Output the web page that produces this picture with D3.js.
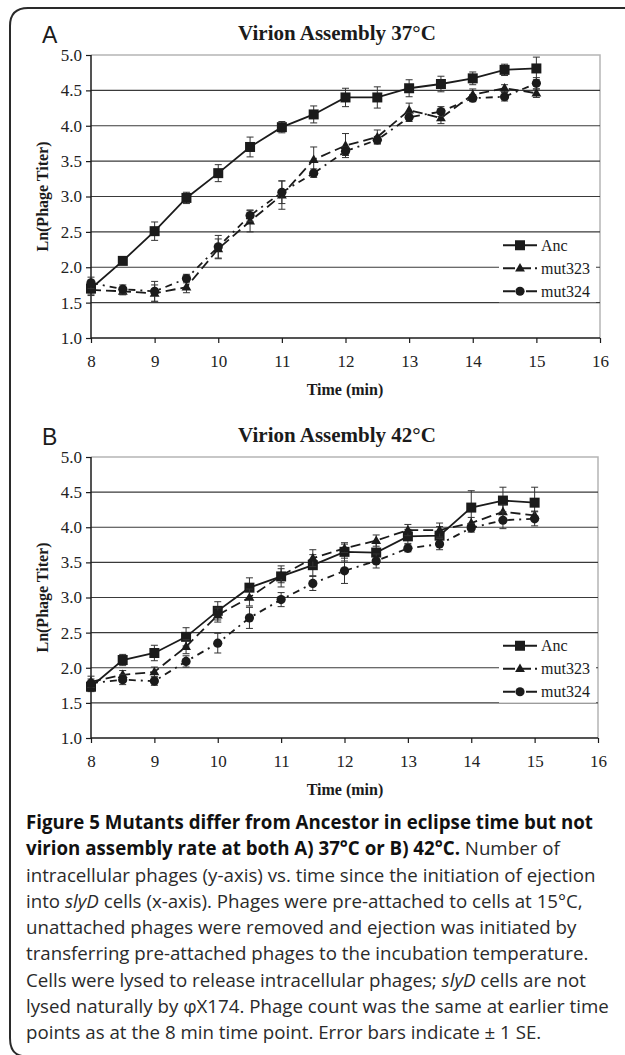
<!DOCTYPE html>
<html>
<head>
<meta charset="utf-8">
<script src="https://cdn.jsdelivr.net/npm/d3@7"></script>
<style>
  html, body { margin: 0; padding: 0; background: #fff; }
  svg { display: block; }
</style>
</head>
<body>
<div id="chart"></div>
<script>
// time points (min)
const times = [8, 8.5, 9, 9.5, 10, 10.5, 11, 11.5, 12, 12.5, 13, 13.5, 14, 14.5, 15];
const seriesNames = ["Anc", "mut323", "mut324"];
const yTicks = [1.0, 1.5, 2.0, 2.5, 3.0, 3.5, 4.0, 4.5, 5.0];
const xTicks = [8, 9, 10, 11, 12, 13, 14, 15, 16];

// 37C
const anc37      = [1.70, 2.09, 2.51, 2.98, 3.33, 3.70, 3.98, 4.16, 4.40, 4.40, 4.53, 4.59, 4.67, 4.79, 4.81];
const anc37Err   = [0.08, 0.05, 0.13, 0.08, 0.12, 0.14, 0.08, 0.12, 0.13, 0.15, 0.12, 0.11, 0.09, 0.08, 0.16];
const mut323_37    = [1.68, 1.66, 1.63, 1.72, 2.26, 2.65, 3.02, 3.52, 3.72, 3.84, 4.22, 4.11, 4.44, 4.53, 4.46];
const mut323_37Err = [0.08, 0.05, 0.12, 0.08, 0.14, 0.15, 0.20, 0.18, 0.17, 0.10, 0.10, 0.08, 0.08, 0.05, 0.06];
const mut324_37    = [1.78, 1.69, 1.66, 1.84, 2.29, 2.73, 3.06, 3.33, 3.64, 3.80, 4.12, 4.20, 4.39, 4.41, 4.60];
const mut324_37Err = [0.08, 0.06, 0.14, 0.06, 0.16, 0.08, 0.16, 0.06, 0.06, 0.05, 0.06, 0.07, 0.05, 0.06, 0.08];

// 42C
const anc42      = [1.73, 2.11, 2.21, 2.44, 2.81, 3.14, 3.30, 3.46, 3.65, 3.64, 3.87, 3.88, 4.28, 4.38, 4.35];
const anc42Err   = [0.07, 0.08, 0.11, 0.13, 0.13, 0.14, 0.15, 0.15, 0.13, 0.15, 0.10, 0.13, 0.24, 0.19, 0.22];
const mut323_42    = [1.80, 1.90, 1.94, 2.30, 2.75, 3.00, 3.31, 3.56, 3.70, 3.81, 3.96, 3.96, 4.06, 4.22, 4.17];
const mut323_42Err = [0.08, 0.06, 0.07, 0.10, 0.10, 0.12, 0.10, 0.12, 0.06, 0.08, 0.08, 0.10, 0.08, 0.10, 0.06];
const mut324_42    = [1.78, 1.83, 1.81, 2.09, 2.35, 2.71, 2.97, 3.20, 3.38, 3.52, 3.70, 3.76, 3.99, 4.10, 4.12];
const mut324_42Err = [0.06, 0.07, 0.06, 0.08, 0.14, 0.15, 0.10, 0.10, 0.18, 0.10, 0.05, 0.08, 0.06, 0.12, 0.10];

const W = 625, H = 1055;
const INK = "#1b1b1b";

const svg = d3.select("#chart").append("svg")
  .attr("width", W).attr("height", H);

// outer frame
svg.append("path")
  .attr("d", "M625,8 H28 Q10,8 10,26 V1038 Q10,1054 22,1056")
  .attr("fill", "none").attr("stroke", "#2a2a2a").attr("stroke-width", 2);

const styles = {
  Anc:    { dash: null,        marker: "square" },
  mut323: { dash: "10,5",      marker: "triangle" },
  mut324: { dash: "7,5,2,5",   marker: "circle" }
};

function drawMarker(g, type, x, y) {
  if (type === "square") {
    g.append("rect").attr("x", x - 5).attr("y", y - 5).attr("width", 10).attr("height", 10).attr("fill", INK);
  } else if (type === "triangle") {
    g.append("path").attr("d", d3.symbol().type(d3.symbolTriangle).size(42)()).attr("transform", `translate(${x},${y + 0.5})`).attr("fill", INK);
  } else {
    g.append("circle").attr("cx", x).attr("cy", y).attr("r", 4.6).attr("fill", INK);
  }
}

function panel(cfg) {
  const x = d3.scaleLinear().domain([8, 16]).range([cfg.left, cfg.right]);
  const y = d3.scaleLinear().domain([1, 5]).range([cfg.bottom, cfg.top]);
  const g = svg.append("g");

  // panel letter and title
  g.append("text").attr("x", 42).attr("y", cfg.top - 12)
    .attr("font-family", "Liberation Sans, Arial, sans-serif").attr("font-size", 23).attr("fill", INK)
    .text(cfg.letter);
  g.append("text").attr("x", 337).attr("y", cfg.top - 15).attr("text-anchor", "middle")
    .attr("font-family", "Liberation Serif, Times New Roman, serif").attr("font-weight", "bold")
    .attr("font-size", 21).attr("fill", INK).text(cfg.title);

  // plot border (top/right light)
  g.append("path")
    .attr("d", `M${cfg.left},${cfg.top} H${cfg.right} V${cfg.bottom}`)
    .attr("fill", "none").attr("stroke", "#b5b5b5").attr("stroke-width", 1.5);

  // gridlines
  g.append("g").selectAll("line").data(yTicks.filter(v => v > 1 && v < 5)).join("line")
    .attr("x1", cfg.left).attr("x2", cfg.right)
    .attr("y1", d => y(d)).attr("y2", d => y(d))
    .attr("stroke", "#3a3a3a").attr("stroke-width", 1.2);

  // axes
  const yAxis = g.append("g").attr("transform", `translate(${cfg.left},0)`)
    .call(d3.axisLeft(y).tickValues(yTicks).tickFormat(d3.format(".1f")).tickSize(5).tickPadding(4));
  const xAxis = g.append("g").attr("transform", `translate(0,${cfg.bottom})`)
    .call(d3.axisBottom(x).tickValues(xTicks).tickFormat(d3.format("d")).tickSize(5).tickPadding(12));
  [yAxis, xAxis].forEach(a => {
    a.select(".domain").attr("stroke", INK).attr("stroke-width", 1.5);
    a.selectAll(".tick line").attr("stroke", INK).attr("stroke-width", 1.2);
    a.selectAll("text").attr("font-family", "Liberation Serif, Times New Roman, serif")
      .attr("font-size", 17).attr("fill", "#222");
  });
  yAxis.select(".domain").attr("d", `M0,${cfg.top}V${cfg.bottom}`);
  xAxis.select(".domain").attr("d", `M${cfg.left},0H${cfg.right}`);

  // axis titles
  g.append("text").attr("transform", `translate(48,${(cfg.top + cfg.bottom) / 2}) rotate(-90)`)
    .attr("text-anchor", "middle").attr("font-family", "Liberation Serif, Times New Roman, serif")
    .attr("font-weight", "bold").attr("font-size", 16).attr("fill", INK).text("Ln(Phage Titer)");
  g.append("text").attr("x", 345).attr("y", cfg.bottom + 57).attr("text-anchor", "middle")
    .attr("font-family", "Liberation Serif, Times New Roman, serif")
    .attr("font-weight", "bold").attr("font-size", 16).attr("fill", INK).text("Time (min)");

  // series
  const line = d3.line().x(d => x(d.t)).y(d => y(d.v));
  cfg.series.forEach(s => {
    const st = styles[s.name];
    const pts = times.map((t, i) => ({ t, v: s.values[i], e: s.errors[i] }));
    const sg = g.append("g");
    sg.selectAll("g.err").data(pts).join("g").attr("class", "err").each(function (d) {
      const e = d3.select(this);
      const cx = x(d.t), y0 = y(d.v - d.e), y1 = y(d.v + d.e);
      e.append("line").attr("x1", cx).attr("x2", cx).attr("y1", y0).attr("y2", y1);
      e.append("line").attr("x1", cx - 3.5).attr("x2", cx + 3.5).attr("y1", y0).attr("y2", y0);
      e.append("line").attr("x1", cx - 3.5).attr("x2", cx + 3.5).attr("y1", y1).attr("y2", y1);
      e.selectAll("line").attr("stroke", "#333").attr("stroke-width", 1);
    });
    sg.append("path").datum(pts).attr("d", line)
      .attr("fill", "none").attr("stroke", INK).attr("stroke-width", 1.8)
      .attr("stroke-dasharray", st.dash);
    pts.forEach(d => drawMarker(sg, st.marker, x(d.t), y(d.v)));
  });

  // legend
  const lg = g.append("g");
  const ly0 = y(2.0) - 22;
  lg.append("rect").attr("x", 499).attr("y", ly0 - 11).attr("width", 97).attr("height", 68).attr("fill", "#fff");
  seriesNames.forEach((n, i) => {
    const ly = ly0 + i * 23;
    const st = styles[n];
    lg.append("line").attr("x1", 503).attr("x2", 537).attr("y1", ly).attr("y2", ly)
      .attr("stroke", INK).attr("stroke-width", 1.8).attr("stroke-dasharray", st.dash ? (n === "mut323" ? "12,4" : "12,3,2,6") : null);
    drawMarker(lg, st.marker, 520, ly);
    lg.append("text").attr("x", 541).attr("y", ly + 5.5)
      .attr("font-family", "Liberation Serif, Times New Roman, serif").attr("font-size", 16).attr("fill", INK)
      .text(n);
  });
}

panel({
  letter: "A", title: "Virion Assembly 37°C",
  left: 91, right: 600, top: 55, bottom: 338,
  series: [
    { name: "Anc", values: anc37, errors: anc37Err },
    { name: "mut323", values: mut323_37, errors: mut323_37Err },
    { name: "mut324", values: mut324_37, errors: mut324_37Err }
  ]
});

panel({
  letter: "B", title: "Virion Assembly 42°C",
  left: 91, right: 598, top: 457, bottom: 738,
  series: [
    { name: "Anc", values: anc42, errors: anc42Err },
    { name: "mut323", values: mut323_42, errors: mut323_42Err },
    { name: "mut324", values: mut324_42, errors: mut324_42Err }
  ]
});

// caption
const captionLines = [
  [["b", "Figure 5 Mutants differ from Ancestor in eclipse time but not"]],
  [["b", "virion assembly rate at both A) 37°C or B) 42°C."], ["r", " Number of"]],
  [["r", "intracellular phages (y-axis) vs. time since the initiation of ejection"]],
  [["r", "into "], ["i", "slyD"], ["r", " cells (x-axis). Phages were pre-attached to cells at 15°C,"]],
  [["r", "unattached phages were removed and ejection was initiated by"]],
  [["r", "transferring pre-attached phages to the incubation temperature."]],
  [["r", "Cells were lysed to release intracellular phages; "], ["i", "slyD"], ["r", " cells are not"]],
  [["r", "lysed naturally by φX174. Phage count was the same at earlier time"]],
  [["r", "points as at the 8 min time point. Error bars indicate ± 1 SE."]]
];
const cap = svg.append("g").attr("transform", "translate(26,0) scale(0.985,1)");
captionLines.forEach((segs, i) => {
  const t = cap.append("text").attr("x", 0).attr("y", 829 + i * 26.3)
    .attr("font-family", "'Open Sans', 'Noto Sans', sans-serif").attr("font-size", 19).attr("fill", "#2a2a2a");
  segs.forEach(([k, s]) => {
    const sp = t.append("tspan").text(s);
    if (k === "b") sp.attr("font-weight", "bold").attr("fill", "#111");
    if (k === "i") sp.attr("font-style", "italic");
  });
});
</script>
</body>
</html>
